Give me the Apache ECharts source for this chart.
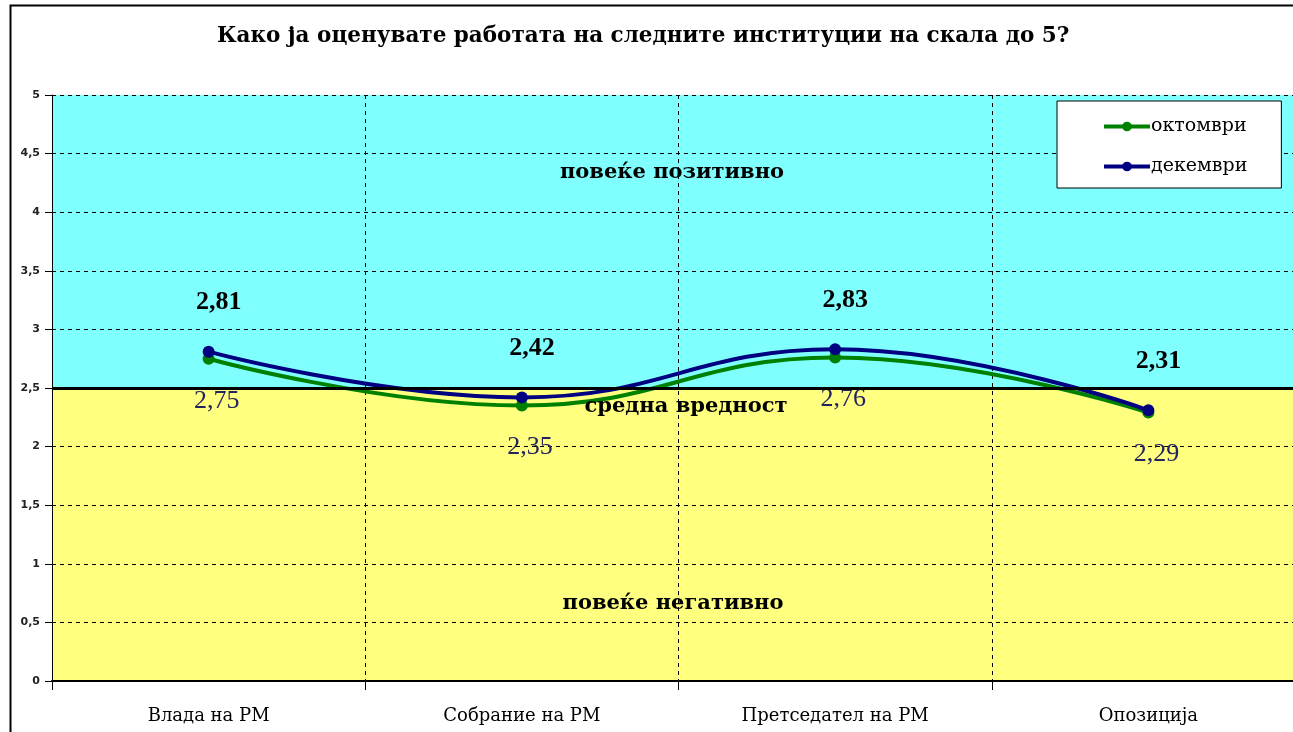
<!DOCTYPE html>
<html>
<head>
<meta charset="utf-8">
<script src="https://cdn.jsdelivr.net/npm/echarts@6/dist/echarts.min.js"></script>
<style>
  html, body { margin: 0; padding: 0; background: #fff; overflow: hidden; }
  /* plot area runs a little past the right edge of the picture, as in the original */
  #chart { width: 1305px; height: 732px; }
</style>
</head>
<body>
<div id="chart"></div>
<script>
var categories = ['Влада на РМ', 'Собрание на РМ', 'Претседател на РМ', 'Опозиција'];
var oktomvri = [2.75, 2.35, 2.76, 2.29];
var dekemvri = [2.81, 2.42, 2.83, 2.31];
var seriesNames = ['октомври', 'декември'];
var meanValue = 2.5;
// bands from bottom: 5 yellow (0-2.5), 5 cyan (2.5-5)
var bandColors = ['#FFFF80', '#FFFF80', '#FFFF80', '#FFFF80', '#FFFF80',
                  '#80FFFF', '#80FFFF', '#80FFFF', '#80FFFF', '#80FFFF'];

var serif = '"Liberation Serif", "Times New Roman", serif';
var wide = '"DejaVu Serif", serif';
function comma(v) { return String(v).replace('.', ','); }

var chart = echarts.init(document.getElementById('chart'));
var option = {
  backgroundColor: '#fff',
  animation: false,
  title: {
    text: 'Како ја оценувате работата на следните институции на скала до 5?',
    left: 212,
    top: 20,
    textStyle: { fontFamily: wide, fontSize: 21.5, fontWeight: 'bold', color: '#000' }
  },
  legend: {
    orient: 'vertical',
    left: 1057,
    top: 101,
    width: 231,
    padding: [16, 34, 12, 45],
    itemGap: 21,
    itemWidth: 46,
    itemHeight: 12,
    backgroundColor: '#fff',
    borderColor: '#000',
    borderWidth: 1,
    lineStyle: { width: 4 },
    textStyle: { fontFamily: wide, fontSize: 19, color: '#000', padding: [0, 0, 0, -4] },
    data: seriesNames
  },
  grid: { left: 52, top: 95, right: 0, bottom: 51 },
  xAxis: {
    type: 'category',
    data: categories,
    boundaryGap: true,
    axisLine: { lineStyle: { color: '#000', width: 2 } },
    axisTick: { show: true, length: 9, lineStyle: { color: '#000' } },
    axisLabel: { fontFamily: wide, fontSize: 18, color: '#000', margin: 26 },
    splitLine: { show: true, lineStyle: { color: '#000', type: [4, 4], width: 1 } }
  },
  yAxis: {
    type: 'value',
    min: 0,
    max: 5,
    interval: 0.5,
    axisLine: { show: true, lineStyle: { color: '#000', width: 1 } },
    axisTick: { show: true, length: 7, lineStyle: { color: '#000' } },
    axisLabel: {
      fontFamily: '"DejaVu Sans", sans-serif', fontSize: 11, fontWeight: 'bold', color: '#222', margin: 12,
      formatter: function (v) { return comma(v); }
    },
    splitLine: { show: true, lineStyle: { color: '#000', type: [4, 4], width: 1 } },
    splitArea: { show: true, areaStyle: { color: bandColors, opacity: 1 } }
  },
  series: [
    {
      name: seriesNames[0],
      type: 'line',
      smooth: 0.45,
      data: oktomvri,
      symbol: 'circle',
      symbolSize: 12,
      lineStyle: { color: '#008000', width: 4 },
      itemStyle: { color: '#008000' },
      label: {
        show: true,
        position: 'bottom',
        distance: 23,
        offset: [8, 0],
        fontFamily: serif,
        fontSize: 26,
        color: '#23235e',
        formatter: function (p) { return comma(p.value); }
      },
      markLine: {
        silent: true,
        symbol: 'none',
        label: { show: false },
        lineStyle: { color: '#000', width: 3, type: 'solid' },
        data: [{ yAxis: meanValue }]
      },
      z: 3
    },
    {
      name: seriesNames[1],
      type: 'line',
      smooth: 0.45,
      data: dekemvri,
      symbol: 'circle',
      symbolSize: 12,
      lineStyle: { color: '#000080', width: 4 },
      itemStyle: { color: '#000080' },
      label: {
        show: true,
        position: 'top',
        distance: 30,
        offset: [10, 0],
        fontFamily: serif,
        fontSize: 26,
        fontWeight: 'bold',
        color: '#000',
        formatter: function (p) { return comma(p.value); }
      },
      z: 4
    }
  ],
  graphic: [
    { type: 'rect', left: 8, top: 3, shape: { width: 1320, height: 740 },
      style: { fill: 'none', stroke: '#000', lineWidth: 2 }, z: 100, silent: true },
    { type: 'text', x: 672, y: 173, style: { text: 'повеќе позитивно', font: 'bold 21px ' + wide,
      fill: '#000', align: 'center', verticalAlign: 'middle' }, z: 50 },
    { type: 'text', x: 686, y: 407, style: { text: 'средна вредност', font: 'bold 21px ' + wide,
      fill: '#000', align: 'center', verticalAlign: 'middle' }, z: 50 },
    { type: 'text', x: 673, y: 604, style: { text: 'повеќе негативно', font: 'bold 21px ' + wide,
      fill: '#000', align: 'center', verticalAlign: 'middle' }, z: 50 }
  ]
};
chart.setOption(option);
</script>
</body>
</html>
